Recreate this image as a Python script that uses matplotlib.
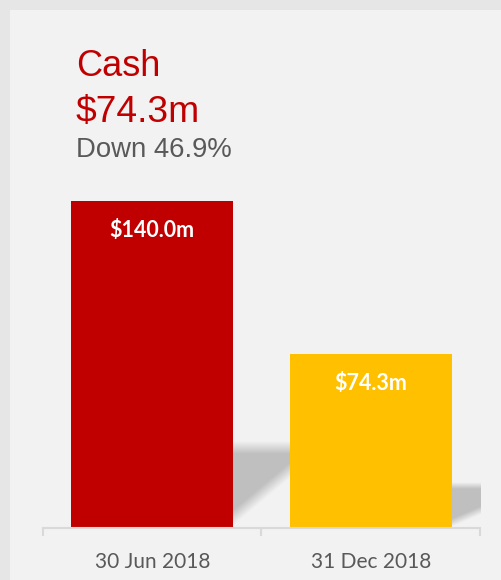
import numpy as np
import matplotlib
matplotlib.use('Agg')
import matplotlib.pyplot as plt
import matplotlib.patches as mpatches

# chart data
categories = ['30 Jun 2018', '31 Dec 2018']
values = [140.0, 74.3]
bar_labels = ['$140.0m', '$74.3m']
bar_colors = ['#c00000', '#ffc000']
title = 'Cash'
headline = '$74.3m'
subtitle = 'Down 46.9%'

W, H = 502, 580
fig = plt.figure(figsize=(W / 100, H / 100), dpi=100)
fig.patch.set_facecolor('#e6e6e6')
# inner panel
fig.patches.append(mpatches.Rectangle((10 / W, 0), 1, 1 - 10 / H, transform=fig.transFigure,
                                      facecolor='#f2f2f2', edgecolor='none', zorder=-5))

ax = fig.add_axes([43 / W, 52 / H, (480 - 43) / W, (528 - 201) / H])
ax.set_facecolor('none')

x = np.arange(len(categories))
width = 0.743

# soft perspective shadows behind each bar
shadow_w = 0.26
for xi, v in zip(x, values):
    h = 0.24 * v
    x0 = xi + width / 2
    gx = np.linspace(0, 1, 120)
    gy = np.linspace(0, 1.15, 220)
    U, V = np.meshgrid(gx, gy)
    top = np.clip((1.1 - V) / 0.16, 0, 1)
    lower = 0.03 + 0.6 * U
    bot = np.clip((V - lower) / 0.2, 0, 1)
    img = np.zeros((len(gy), len(gx), 4))
    img[..., :3] = 0.75
    img[..., 3] = top * bot
    ax.imshow(img, extent=[x0, x0 + shadow_w, 0, 1.15 * h], origin='lower',
              aspect='auto', zorder=1, interpolation='bilinear')

ax.set_xlim(-0.5, 1.5)
ax.set_ylim(0, 140)

bars = ax.bar(x, values, width=width, color=bar_colors, zorder=2)
for b, lab in zip(bars, bar_labels):
    ax.annotate(lab, (b.get_x() + b.get_width() / 2, b.get_height()),
                xytext=(0, -29), textcoords='offset pixels', ha='center', va='center',
                color='white', fontsize=15.5, fontweight='bold', family='Lato', zorder=3)

for s in ['top', 'right', 'left']:
    ax.spines[s].set_visible(False)
ax.spines['bottom'].set_color('#d9d9d9')
ax.spines['bottom'].set_linewidth(1.5)
ax.set_yticks([])
ax.set_xticks([-0.5, 0.5, 1.5])
ax.set_xticklabels([])
ax.tick_params(axis='x', which='major', length=6, width=1.5, color='#d9d9d9')
ax.set_xticks(x, minor=True)
ax.set_xticklabels(categories, minor=True)
ax.tick_params(axis='x', which='minor', length=0, pad=17, labelsize=15, labelcolor='#595959')
for t in ax.get_xticklabels(minor=True):
    t.set_family('Lato')

fig.text(76 / W, 1 - 76 / H, title, color='#c00000', fontsize=26, family='Liberation Sans', va='baseline')
fig.text(76 / W, 1 - 122 / H, headline, color='#c00000', fontsize=26.8, family='Liberation Sans', va='baseline')
fig.text(76 / W, 1 - 157 / H, subtitle, color='#595959', fontsize=19.8, family='Liberation Sans', va='baseline')

fig.savefig('out.png', dpi=100, facecolor=fig.get_facecolor())
